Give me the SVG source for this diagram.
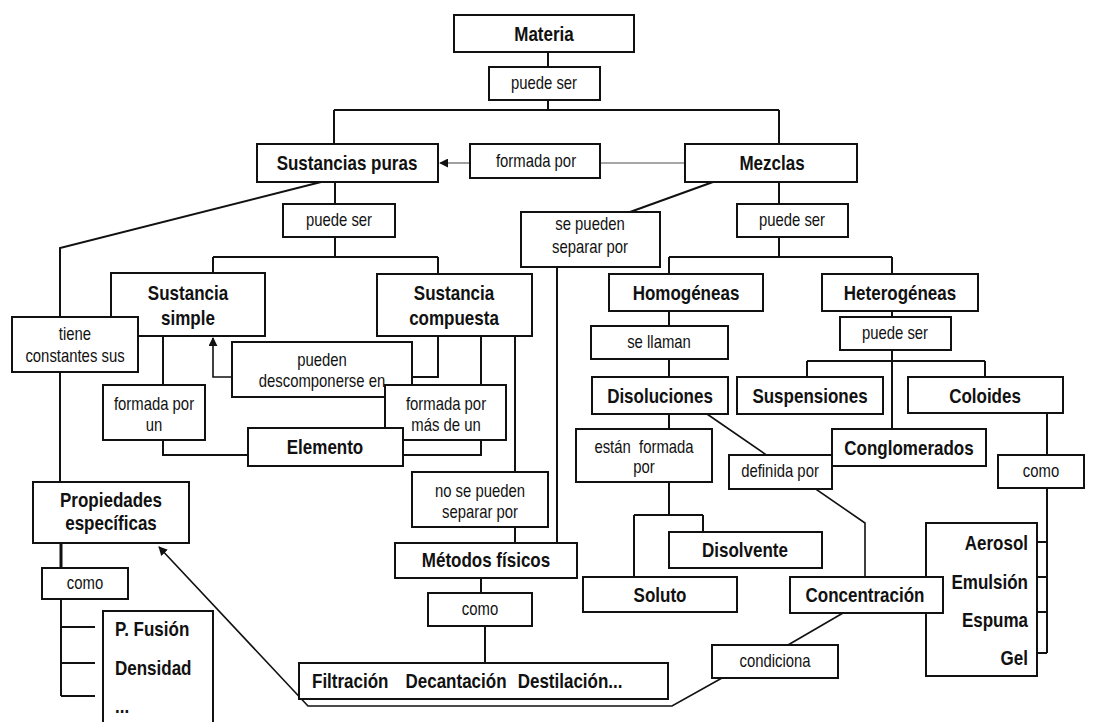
<svg xmlns="http://www.w3.org/2000/svg" width="1095" height="722" viewBox="0 0 1095 722">
<style>
.b{fill:#fff;stroke:#111;stroke-width:2}
.t{font-family:"Liberation Sans",Arial,sans-serif;font-weight:bold;font-size:20px;fill:#111;text-anchor:middle}
.s{font-family:"Liberation Sans",Arial,sans-serif;font-size:17.5px;fill:#111;text-anchor:middle}
.c{fill:none;stroke:#111;stroke-width:2}
.g{fill:none;stroke:#888;stroke-width:1.6}
</style>
<defs>
<marker id="ah" viewBox="0 0 10 10" refX="9" refY="5" markerWidth="9" markerHeight="9" markerUnits="userSpaceOnUse" orient="auto">
<path d="M0,0 L10,5 L0,10 z" fill="#111"/>
</marker>
</defs>
<rect width="1095" height="722" fill="#fff"/>
<g id="connectors">
<path class="c" d="M548,52V67M548,100V110M334,110H779M334,110V144M779,110V144"/>
<path class="g" d="M470,163H440" marker-end="url(#ah)"/>
<path class="g" d="M600,163H685"/>
<path class="c" d="M335,182V204M335,237V257M213,257H438M213,257V273M438,257V274"/>
<path class="c" d="M325,181L60,248V317M60,372V482"/>
<path class="c" d="M61,543V568" style="stroke-width:3"/>
<path class="c" d="M61,599V696M61,627H95M61,663H95M61,696H95"/>
<path class="c" d="M163,336V385M163,440V455H248"/>
<path class="c" d="M232,377H213V338" marker-end="url(#ah)" style="stroke-width:1.6"/>
<path class="c" d="M438,336V377H412M481,336V385M481,440V455H403M515,336V472M515,527V543"/>
<path class="c" d="M557,267V543"/>
<path class="c" d="M713,182L630,212"/>
<path class="c" d="M779,182V204M779,237V257M669,257H892M669,257V274M892,257V274"/>
<path class="c" d="M669,311V326M669,359V377M669,414V429M669,482V515M634,515H703M634,515V577M703,515V532"/>
<path class="c" d="M707,414L865,523V577" style="stroke-width:1.6"/>
<path class="c" d="M843,613L788,645" style="stroke-width:1.6"/>
<path class="c" d="M722,678L672,706H308L159,547" marker-end="url(#ah)" style="stroke-width:1.6"/>
<path class="c" d="M481,578V593M485,626V663"/>
<path class="c" d="M892,311V317M892,350V429M807,361H985M807,361V377M985,361V377"/>
<path class="c" d="M1047,413V455M1047,488V653M1037,542H1047M1037,577H1047M1037,612H1047M1037,653H1047"/>
</g>
<g id="materia"><rect class="b" x="454" y="15" width="180" height="37"/><text class="t" transform="translate(544,41) scale(.85,1)">Materia</text></g>
<g id="puede-ser-1"><rect class="b" x="489" y="67" width="111" height="33"/><text class="s" transform="translate(544,89) scale(.85,1)">puede ser</text></g>
<g id="sustancias-puras"><rect class="b" x="257" y="144" width="181" height="38"/><text class="t" transform="translate(347,170) scale(.85,1)">Sustancias puras</text></g>
<g id="formada-por"><rect class="b" x="470" y="144" width="130" height="34"/><text class="s" transform="translate(536,167) scale(.85,1)">formada por</text></g>
<g id="mezclas"><rect class="b" x="685" y="144" width="172" height="38"/><text class="t" transform="translate(772,170) scale(.85,1)">Mezclas</text></g>
<g id="puede-ser-2"><rect class="b" x="283" y="204" width="112" height="33"/><text class="s" transform="translate(339,226) scale(.85,1)">puede ser</text></g>
<g id="se-pueden-separar"><rect class="b" x="521" y="212" width="139" height="55"/><text class="s" transform="translate(590,230) scale(.85,1)"><tspan x="0">se pueden</tspan><tspan x="0" dy="23">separar por</tspan></text></g>
<g id="puede-ser-3"><rect class="b" x="737" y="204" width="111" height="33"/><text class="s" transform="translate(792,226) scale(.85,1)">puede ser</text></g>
<g id="sustancia-simple"><rect class="b" x="111" y="273" width="154" height="63"/><text class="t" transform="translate(188,300) scale(.85,1)"><tspan x="0">Sustancia</tspan><tspan x="0" dy="25">simple</tspan></text></g>
<g id="sustancia-compuesta"><rect class="b" x="377" y="274" width="155" height="62"/><text class="t" transform="translate(454,300) scale(.85,1)"><tspan x="0">Sustancia</tspan><tspan x="0" dy="25">compuesta</tspan></text></g>
<g id="tiene-constantes"><rect class="b" x="12" y="317" width="126" height="55"/><text class="s" transform="translate(75,340) scale(.85,1)"><tspan x="0">tiene</tspan><tspan x="0" dy="22">constantes sus</tspan></text></g>
<g id="pueden-descomponerse"><rect class="b" x="232" y="342" width="180" height="55"/><text class="s" transform="translate(322,366) scale(.85,1)"><tspan x="0">pueden</tspan><tspan x="0" dy="21">descomponerse en</tspan></text></g>
<g id="formada-por-un"><rect class="b" x="103" y="385" width="102" height="55"/><text class="s" transform="translate(154,410) scale(.85,1)"><tspan x="0">formada por</tspan><tspan x="0" dy="21">un</tspan></text></g>
<g id="formada-por-mas"><rect class="b" x="385" y="385" width="121" height="55"/><text class="s" transform="translate(446,410) scale(.85,1)"><tspan x="0">formada por</tspan><tspan x="0" dy="21">más de un</tspan></text></g>
<g id="elemento"><rect class="b" x="248" y="428" width="155" height="38"/><text class="t" transform="translate(325,454) scale(.85,1)">Elemento</text></g>
<g id="no-se-pueden"><rect class="b" x="412" y="472" width="136" height="55"/><text class="s" transform="translate(480,497) scale(.85,1)"><tspan x="0">no se pueden</tspan><tspan x="0" dy="21">separar por</tspan></text></g>
<g id="propiedades"><rect class="b" x="33" y="482" width="156" height="61"/><text class="t" transform="translate(111,507) scale(.85,1)"><tspan x="0">Propiedades</tspan><tspan x="0" dy="23">específicas</tspan></text></g>
<g id="metodos"><rect class="b" x="395" y="543" width="182" height="35"/><text class="t" transform="translate(486,567) scale(.85,1)">Métodos físicos</text></g>
<g id="como-1"><rect class="b" x="428" y="593" width="104" height="33"/><text class="s" transform="translate(480,615) scale(.85,1)">como</text></g>
<g id="como-2"><rect class="b" x="42" y="568" width="86" height="31"/><text class="s" transform="translate(85,589) scale(.85,1)">como</text></g>
<g id="propiedades-lista"><rect class="b" x="103" y="611" width="110" height="116"/><text class="t" style="text-anchor:start" transform="translate(115,0) scale(.85,1)"><tspan x="0" y="636">P. Fusión</tspan><tspan x="0" y="675">Densidad</tspan><tspan x="0" y="713">...</tspan></text></g>
<g id="metodos-lista"><rect class="b" x="299" y="663" width="369" height="36"/><text class="t" style="text-anchor:start" transform="translate(312,688) scale(.85,1)"><tspan x="0">Filtración</tspan><tspan x="110">Decantación</tspan><tspan x="242">Destilación...</tspan></text></g>
<g id="homogeneas"><rect class="b" x="609" y="274" width="154" height="37"/><text class="t" transform="translate(686,300) scale(.85,1)">Homogéneas</text></g>
<g id="heterogeneas"><rect class="b" x="822" y="274" width="156" height="37"/><text class="t" transform="translate(900,300) scale(.85,1)">Heterogéneas</text></g>
<g id="se-llaman"><rect class="b" x="591" y="326" width="137" height="33"/><text class="s" transform="translate(659,348) scale(.85,1)">se llaman</text></g>
<g id="puede-ser-4"><rect class="b" x="840" y="317" width="111" height="33"/><text class="s" transform="translate(895,339) scale(.85,1)">puede ser</text></g>
<g id="disoluciones"><rect class="b" x="592" y="377" width="136" height="37"/><text class="t" transform="translate(660,403) scale(.85,1)">Disoluciones</text></g>
<g id="suspensiones"><rect class="b" x="737" y="377" width="146" height="37"/><text class="t" transform="translate(810,403) scale(.85,1)">Suspensiones</text></g>
<g id="coloides"><rect class="b" x="908" y="377" width="155" height="36"/><text class="t" transform="translate(985,403) scale(.85,1)">Coloides</text></g>
<g id="conglomerados"><rect class="b" x="832" y="429" width="154" height="37"/><text class="t" transform="translate(909,455) scale(.85,1)">Conglomerados</text></g>
<g id="estan-formada"><rect class="b" x="576" y="429" width="136" height="53"/><text class="s" transform="translate(644,453) scale(.85,1)"><tspan x="0" xml:space="preserve">están  formada</tspan><tspan x="0" dy="20">por</tspan></text></g>
<g id="definida-por"><rect class="b" x="729" y="455" width="103" height="34"/><text class="s" transform="translate(780,477) scale(.85,1)">definida por</text></g>
<g id="como-3"><rect class="b" x="998" y="455" width="86" height="33"/><text class="s" transform="translate(1041,477) scale(.85,1)">como</text></g>
<g id="disolvente"><rect class="b" x="669" y="532" width="153" height="36"/><text class="t" transform="translate(745,557) scale(.85,1)">Disolvente</text></g>
<g id="soluto"><rect class="b" x="583" y="577" width="154" height="35"/><text class="t" transform="translate(660,602) scale(.85,1)">Soluto</text></g>
<g id="coloides-lista"><rect class="b" x="926" y="523" width="111" height="153"/><text class="t" style="text-anchor:end" transform="translate(1028,0) scale(.85,1)"><tspan x="0" y="550">Aerosol</tspan><tspan x="0" y="589">Emulsión</tspan><tspan x="0" y="627">Espuma</tspan><tspan x="0" y="665">Gel</tspan></text></g>
<g id="concentracion"><rect class="b" x="790" y="577" width="153" height="36"/><text class="t" transform="translate(865,602) scale(.85,1)">Concentración</text></g>
<g id="condiciona"><rect class="b" x="712" y="645" width="126" height="33"/><text class="s" transform="translate(775,667) scale(.85,1)">condiciona</text></g>
</svg>
